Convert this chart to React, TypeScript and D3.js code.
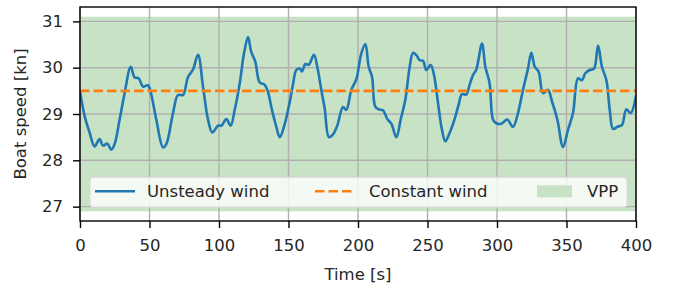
import React, { useEffect, useRef } from 'react';
import * as d3 from 'd3';

// boat speed (time in s, speed in kn)
const timeS = [
  0, 3.4, 7, 10.5, 14.1, 16.5, 19.7, 22.5, 25, 28.5, 32.1, 36.5, 39.3, 42.2, 45.3, 48.9,
  50.8, 54.9, 59.7, 62.1, 66.9, 70.5, 74.1, 77.7, 81.3, 84.9, 88.5, 92.1, 95.2, 99.3,
  101.7, 105.3, 108.4, 111.3, 114.9, 118, 120.9, 123.2, 126.1, 129.3, 132.9, 135.2, 138.1,
  141.2, 143.7, 146.8, 150.2, 153.2, 155.6, 158.1, 159.7, 162.1, 164.5, 168.3, 170.7,
  173.6, 176, 179.1, 182, 185.1, 189.2, 191.6, 195.2, 198.8, 202.4, 205.3, 207.7, 210.1,
  212.4, 214.9, 218, 221.1, 224, 227.6, 230.7, 234, 237.2, 239.6, 242, 244.4, 246.8,
  249.1, 252.3, 254.7, 257.6, 260.4, 262.8, 265.9, 269.5, 272.4, 274.8, 277.9, 280.3,
  282.7, 285.1, 289.2, 291.6, 294.7, 297.1, 299.5, 303.1, 307.4, 311.5, 315.1, 318.7,
  322.3, 324.7, 327.2, 330, 333.1, 336.7, 339.6, 343.4, 347.5, 351.1, 354.7, 358.3,
  361.1, 363.5, 366.7, 369.8, 372.7, 375.5, 378.7, 381.1, 383.5, 387, 389.9, 393, 396.2, 400,
];
const speedKn = [
  29.48, 28.95, 28.59, 28.3, 28.46, 28.32, 28.36, 28.23, 28.36, 28.88, 29.45, 30.02, 29.79, 29.77, 29.59, 29.62,
  29.48, 28.88, 28.28, 28.35, 29.02, 29.41, 29.41, 29.8, 29.96, 30.28, 29.59, 28.88, 28.6, 28.75,
  28.75, 28.89, 28.75, 29.09, 29.66, 30.31, 30.66, 30.34, 30.13, 29.68, 29.63, 29.48, 29.09,
  28.73, 28.5, 28.73, 29.16, 29.63, 29.95, 29.98, 29.92, 30.08, 30.06, 30.28, 30.02,
  29.52, 29.13, 28.5, 28.56, 28.75, 29.15, 29.09, 29.52, 29.75, 30.31, 30.51, 30.02, 29.8,
  29.16, 29.1, 29.08, 28.89, 28.79, 28.5, 28.88, 29.3, 30.02, 30.32, 30.27, 30.16, 30.15,
  29.95, 30.06, 29.84, 29.23, 28.66, 28.41, 28.59, 28.89, 29.2, 29.43, 29.42, 29.63,
  29.84, 29.96, 30.52, 30.02, 29.66, 28.88, 28.8, 28.79, 28.88, 28.72, 29.02, 29.52,
  29.98, 30.32, 30.02, 29.91, 29.45, 29.52, 29.27, 28.88, 28.29, 28.66, 29.02, 29.77,
  29.73, 29.88, 29.95, 29.98, 30.48, 30.02, 29.73, 29.09, 28.68, 28.73, 28.76, 29.1, 29.02, 29.4,
];
const constantWind = 29.5;
const vppBand = [26.9, 31.1];
const xTicks = [0, 50, 100, 150, 200, 250, 300, 350, 400];
const yTicks = [27, 28, 29, 30, 31];
const legendLabels = ['Unsteady wind', 'Constant wind', 'VPP'];

const BLUE = '#1f77b4';
const ORANGE = '#ff7f0e';
const GREEN = '#c8e2c6';
const FONT = 'DejaVu Sans, sans-serif';

export default function App() {
  const svgRef = useRef<SVGSVGElement>(null);

  useEffect(() => {
    if (!svgRef.current) return;
    const width = 673;
    const height = 288;
    const margin = { top: 7, right: 37, bottom: 67, left: 80 };
    const innerW = width - margin.left - margin.right;
    const innerH = height - margin.top - margin.bottom;

    const svg = d3.select(svgRef.current);
    svg.selectAll('*').remove();

    const pad = (vppBand[1] - vppBand[0]) * 0.05;
    const x = d3.scaleLinear().domain([0, 400]).range([0, innerW]);
    const y = d3.scaleLinear().domain([vppBand[0] - pad, vppBand[1] + pad]).range([innerH, 0]);

    const g = svg.append('g').attr('transform', `translate(${margin.left},${margin.top})`);

    g.append('defs').append('clipPath').attr('id', 'plot-clip')
      .append('rect').attr('width', innerW).attr('height', innerH);

    // VPP band
    g.append('rect')
      .attr('x', 0).attr('width', innerW)
      .attr('y', y(vppBand[1])).attr('height', y(vppBand[0]) - y(vppBand[1]))
      .attr('fill', GREEN);

    // grid
    g.selectAll('.vgrid').data(xTicks).enter().append('line')
      .attr('x1', d => x(d)).attr('x2', d => x(d)).attr('y1', 0).attr('y2', innerH)
      .attr('stroke', '#b0b0b0').attr('stroke-width', 1.4);
    g.selectAll('.hgrid').data(yTicks).enter().append('line')
      .attr('x1', 0).attr('x2', innerW).attr('y1', d => y(d)).attr('y2', d => y(d))
      .attr('stroke', '#b0b0b0').attr('stroke-width', 1.4);

    const pts: [number, number][] = timeS.map((t, i) => [t, speedKn[i]]);
    const line = d3.line<[number, number]>()
      .x(d => x(d[0])).y(d => y(d[1]))
      .curve(d3.curveCatmullRom.alpha(0.5));

    g.append('path').datum(pts)
      .attr('clip-path', 'url(#plot-clip)')
      .attr('fill', 'none').attr('stroke', BLUE).attr('stroke-width', 2.6)
      .attr('stroke-linejoin', 'round')
      .attr('d', line);

    g.append('line')
      .attr('x1', 0).attr('x2', innerW).attr('y1', y(constantWind)).attr('y2', y(constantWind))
      .attr('stroke', ORANGE).attr('stroke-width', 2.6).attr('stroke-dasharray', '9.5,4');

    // legend
    const lg = g.append('g').attr('transform', `translate(10,${y(26.9) - 34})`);
    lg.append('rect')
      .attr('width', innerW - 19).attr('height', 30).attr('rx', 3)
      .attr('fill', 'rgba(255,255,255,0.8)').attr('stroke', '#d8d8d8').attr('stroke-width', 1);
    lg.append('line').attr('x1', 5).attr('x2', 45).attr('y1', 14).attr('y2', 14)
      .attr('stroke', BLUE).attr('stroke-width', 2.6);
    lg.append('line').attr('x1', 225).attr('x2', 265).attr('y1', 14).attr('y2', 14)
      .attr('stroke', ORANGE).attr('stroke-width', 2.6).attr('stroke-dasharray', '9.5,4');
    lg.append('rect').attr('x', 447).attr('y', 8).attr('width', 35).attr('height', 12)
      .attr('fill', GREEN);
    const labelX = [57, 279, 497];
    lg.selectAll('.ltext').data(legendLabels).enter().append('text')
      .attr('x', (_, i) => labelX[i]).attr('y', 20)
      .attr('font-family', FONT).attr('font-size', '16.5px').attr('fill', '#262626')
      .text(d => d);

    // axes
    const xAxis = g.append('g').attr('transform', `translate(0,${innerH})`)
      .call(d3.axisBottom(x).tickValues(xTicks).tickSize(7).tickPadding(11).tickFormat(d3.format('d')));
    const yAxis = g.append('g')
      .call(d3.axisLeft(y).tickValues(yTicks).tickSize(7).tickPadding(10).tickFormat(d3.format('d')));
    [xAxis, yAxis].forEach(a => {
      a.select('.domain').remove();
      a.selectAll('line').attr('stroke', '#000').attr('stroke-width', 1.4);
      a.selectAll('text').attr('font-family', FONT).attr('font-size', '16.5px').attr('fill', '#262626');
    });

    // spines
    g.append('rect').attr('width', innerW).attr('height', innerH)
      .attr('fill', 'none').attr('stroke', '#000').attr('stroke-width', 1.4);

    g.append('text')
      .attr('x', innerW / 2).attr('y', innerH + 59)
      .attr('text-anchor', 'middle')
      .attr('font-family', FONT).attr('font-size', '16.5px').attr('fill', '#262626')
      .text('Time [s]');
    g.append('text')
      .attr('transform', `translate(${-54},${innerH / 2}) rotate(-90)`)
      .attr('text-anchor', 'middle')
      .attr('font-family', FONT).attr('font-size', '16.5px').attr('fill', '#262626')
      .text('Boat speed [kn]');
  }, []);

  return (
    <div style={{ position: 'absolute', left: 0, top: 0 }}>
      <svg ref={svgRef} width="673" height="288" style={{ display: 'block', background: '#fff' }} />
    </div>
  );
}
